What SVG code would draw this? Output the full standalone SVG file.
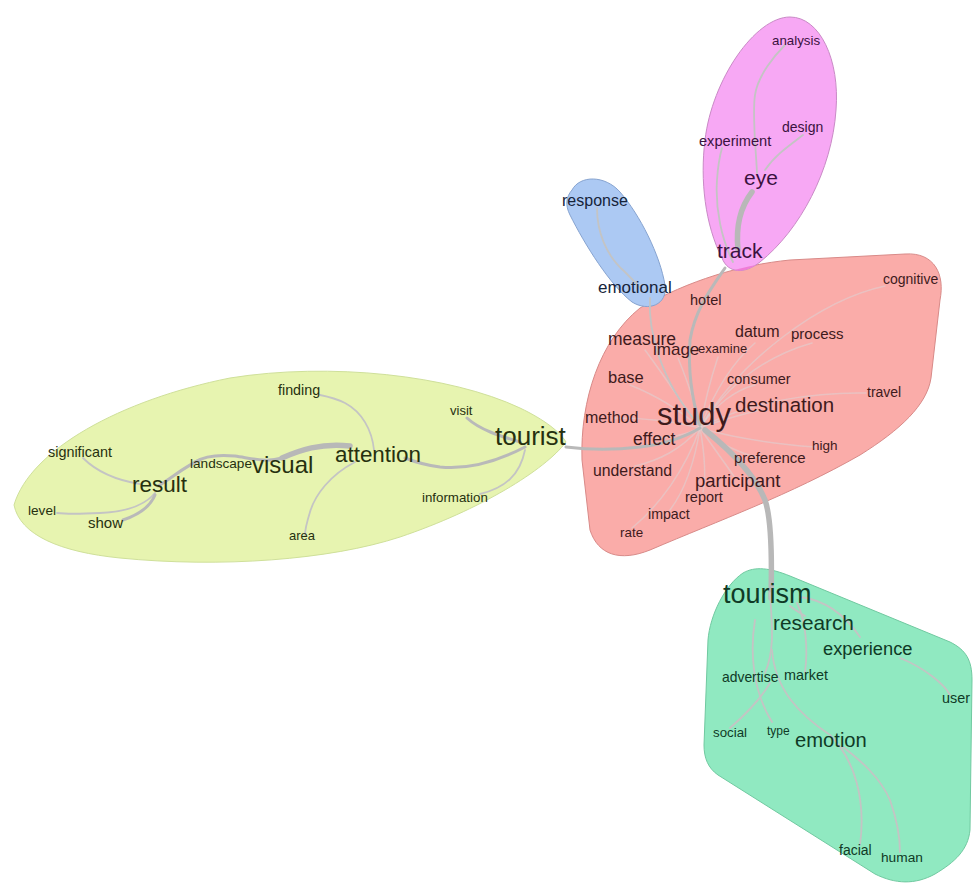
<svg xmlns="http://www.w3.org/2000/svg" width="974" height="883" viewBox="0 0 974 883">
<defs>
<style>
text{font-family:"Liberation Sans",Arial,sans-serif}
.hull{stroke-width:1}
.e1{fill:none;stroke:#c4c4c4;stroke-width:1.8;stroke-linecap:round}
.e2{fill:none;stroke:#b9b9b9;stroke-width:3;stroke-linecap:round}
.e3{fill:none;stroke:#b8b8b8;stroke-width:5.5;stroke-linecap:round}
.ef{fill:none;stroke:#dcd4d6;stroke-opacity:0.55;stroke-width:1.5;stroke-linecap:round}
.tp{fill:#3e1a1c}
.tg{fill:#26300f}
.tb{fill:#16243a}
.tm{fill:#3a1240}
.tt{fill:#0f3a26}
</style>
<path id="pinkShape" d="M640,308 C690,280 740,265 790,260 L905,254 C935,252 945,275 940,300 L931,378 C927,405 900,430 860,455 C790,495 720,520 650,550 C620,562 598,555 590,530 L582,460 C580,400 600,340 640,308 Z"/>
<path id="magShape" d="M790,17 C820,17 840,60 836,110 C832,170 800,230 760,262 C745,274 728,274 722,258 C705,225 700,180 705,140 C712,80 755,17 790,17 Z"/>
<clipPath id="pinkClip"><use href="#pinkShape"/></clipPath>
</defs>
<rect width="974" height="883" fill="#ffffff"/>
<g id="hulls">
<path class="hull" d="M14,505 C30,450 120,400 230,378 C330,362 450,375 520,408 C545,420 560,432 566,442 C545,470 480,510 400,537 C330,560 220,568 120,558 C60,552 20,535 14,505 Z" fill="#e7f4b0" stroke="#cfe09a"/>
<use href="#pinkShape" class="hull" fill="#faaca9" stroke="#d88a88"/>
<path class="hull" d="M572,190 C580,175 605,175 620,192 C640,215 660,255 665,285 C668,305 648,312 632,302 C610,285 585,245 570,215 C565,205 566,197 572,190 Z" fill="#acc9f3" stroke="#86a3d0"/>
<use href="#magShape" class="hull" fill="#f7a8f4" stroke="#c98ac6"/>
<use href="#magShape" clip-path="url(#pinkClip)" fill="#f07bd6"/>
<path class="hull" d="M743,573 C755,566 770,568 790,576 L950,642 C966,650 972,660 972,680 L970,830 C968,850 955,862 935,874 C915,885 895,884 875,874 L718,775 C708,768 704,758 704,745 L708,640 C710,615 725,585 743,573 Z" fill="#90e9c1" stroke="#70c9a0"/>
</g>
<g id="connectors">
<path class="ef" d="M700,428 C680,400 660,370 645,350"/>
<path class="ef" d="M700,428 C695,400 685,375 678,358"/>
<path class="ef" d="M700,428 C705,400 712,375 718,357"/>
<path class="ef" d="M700,428 C715,390 735,360 755,343"/>
<path class="ef" d="M700,428 C730,380 770,355 812,343"/>
<path class="ef" d="M700,428 C740,360 820,300 885,286"/>
<path class="ef" d="M700,428 C715,405 735,390 755,385"/>
<path class="ef" d="M700,428 C720,420 740,415 760,410"/>
<path class="ef" d="M700,428 C750,400 820,392 866,393"/>
<path class="ef" d="M700,428 C740,440 790,445 815,447"/>
<path class="ef" d="M700,428 C720,445 745,455 760,458"/>
<path class="ef" d="M700,428 C715,450 730,470 735,478"/>
<path class="ef" d="M700,428 C705,455 706,480 703,492"/>
<path class="ef" d="M700,428 C695,460 685,490 670,510"/>
<path class="ef" d="M700,428 C685,470 660,505 632,528"/>
<path class="ef" d="M700,428 C680,450 660,460 635,466"/>
<path class="ef" d="M700,428 C685,435 670,438 655,438"/>
<path class="ef" d="M700,428 C670,420 640,418 615,418"/>
<path class="ef" d="M700,428 C680,410 655,395 630,385"/>
<path class="e2" d="M566,447 C590,450 615,450 640,447 C665,444 685,437 700,428"/>
<path class="e1" d="M650,298 C648,330 660,380 698,424"/>
<path class="e2" d="M725,268 C710,290 695,310 690,340 C688,370 692,400 700,425"/>
<path class="e1" d="M597,208 C597,230 605,255 625,272 C635,282 640,288 642,290"/>
<path class="e3" d="M738,250 C736,230 738,210 752,192"/>
<path class="e1" d="M757,173 C756,150 752,115 755,95 C758,75 775,55 785,45"/>
<path class="e1" d="M765,170 C775,155 790,145 803,135"/>
<path class="e1" d="M733,262 C722,240 715,210 717,180 C718,165 720,155 722,148"/>
<path class="e2" d="M520,442 C500,436 480,430 467,418"/>
<path class="e2" d="M525,447 C500,460 470,470 440,467 C425,465 415,462 405,458"/>
<path class="e1" d="M525,450 C520,475 505,488 480,494"/>
<path class="e3" d="M350,446 C320,443 300,450 282,458"/>
<path class="e2" d="M282,458 C265,463 250,458 235,456 C215,454 203,457 195,462"/>
<path class="e2" d="M200,460 C185,466 172,478 158,486"/>
<path class="e1" d="M374,450 C372,430 362,412 345,403 C335,398 325,396 320,395"/>
<path class="e1" d="M355,462 C330,475 315,495 310,512 C306,525 305,532 305,535"/>
<path class="e1" d="M140,484 C115,480 95,470 83,458"/>
<path class="e1" d="M155,493 C145,505 125,512 100,513 C80,514 65,514 57,513"/>
<path class="e2" d="M155,495 C150,507 138,515 123,520"/>
<path class="e3" d="M705,430 C730,450 755,475 765,500 C772,520 772,560 771,598"/>
<path class="e1" d="M790,606 C795,610 800,613 805,616"/>
<path class="e1" d="M800,597 C825,600 845,615 860,637"/>
<path class="e1" d="M900,658 C925,668 945,685 950,695"/>
<path class="e1" d="M770,593 C772,625 775,650 765,673"/>
<path class="e1" d="M797,603 C806,620 808,650 805,672"/>
<path class="e1" d="M755,620 C750,650 752,690 772,722"/>
<path class="e1" d="M770,683 C760,700 745,715 730,728"/>
<path class="e1" d="M772,650 C775,690 800,715 830,735 C855,760 866,800 860,845"/>
<path class="e1" d="M843,747 C860,760 880,777 890,800 C897,820 900,840 900,852"/>
</g>
<g id="n-study"><text class="tp" x="657" y="425" font-size="31">study</text></g>
<g id="n-cognitive"><text class="tp" x="883" y="284" font-size="14">cognitive</text></g>
<g id="n-hotel"><text class="tp" x="690" y="305" font-size="14.5">hotel</text></g>
<g id="n-datum"><text class="tp" x="735" y="337" font-size="16">datum</text></g>
<g id="n-process"><text class="tp" x="791" y="339" font-size="15">process</text></g>
<g id="n-measure"><text class="tp" x="608" y="345" font-size="17.5">measure</text></g>
<g id="n-image"><text class="tp" x="653" y="355" font-size="17">image</text></g>
<g id="n-examine"><text class="tp" x="698" y="353" font-size="13">examine</text></g>
<g id="n-base"><text class="tp" x="608" y="383" font-size="16.5">base</text></g>
<g id="n-consumer"><text class="tp" x="727" y="384" font-size="14.5">consumer</text></g>
<g id="n-travel"><text class="tp" x="867" y="397" font-size="14">travel</text></g>
<g id="n-destination"><text class="tp" x="735" y="412" font-size="20.5">destination</text></g>
<g id="n-method"><text class="tp" x="585" y="423" font-size="16">method</text></g>
<g id="n-effect"><text class="tp" x="633" y="445" font-size="17.5">effect</text></g>
<g id="n-high"><text class="tp" x="812" y="450" font-size="13.5">high</text></g>
<g id="n-preference"><text class="tp" x="734" y="463" font-size="15">preference</text></g>
<g id="n-understand"><text class="tp" x="593" y="476" font-size="15.8">understand</text></g>
<g id="n-participant"><text class="tp" x="695" y="487" font-size="18.5">participant</text></g>
<g id="n-report"><text class="tp" x="685" y="502" font-size="14.5">report</text></g>
<g id="n-impact"><text class="tp" x="648" y="519" font-size="14.2">impact</text></g>
<g id="n-rate"><text class="tp" x="620" y="537" font-size="13.4">rate</text></g>
<g id="n-analysis"><text class="tm" x="772" y="45" font-size="13.3">analysis</text></g>
<g id="n-design"><text class="tm" x="782" y="132" font-size="14">design</text></g>
<g id="n-experiment"><text class="tm" x="699" y="146" font-size="14.6">experiment</text></g>
<g id="n-eye"><text class="tm" x="744" y="185" font-size="21">eye</text></g>
<g id="n-track"><text class="tm" x="717" y="258" font-size="21">track</text></g>
<g id="n-response"><text class="tb" x="562" y="206" font-size="16">response</text></g>
<g id="n-emotional"><text class="tb" x="598" y="293" font-size="17">emotional</text></g>
<g id="n-finding"><text class="tg" x="278" y="395" font-size="14.3">finding</text></g>
<g id="n-visit"><text class="tg" x="450" y="415" font-size="13">visit</text></g>
<g id="n-tourist"><text class="tg" x="495" y="445" font-size="26">tourist</text></g>
<g id="n-attention"><text class="tg" x="335" y="462" font-size="22.4">attention</text></g>
<g id="n-visual"><text class="tg" x="252" y="473" font-size="24">visual</text></g>
<g id="n-landscape"><text class="tg" x="190" y="468" font-size="13.6">landscape</text></g>
<g id="n-significant"><text class="tg" x="48" y="457" font-size="14.4">significant</text></g>
<g id="n-result"><text class="tg" x="132" y="492" font-size="22.5">result</text></g>
<g id="n-level"><text class="tg" x="28" y="515" font-size="13.6">level</text></g>
<g id="n-show"><text class="tg" x="88" y="528" font-size="15">show</text></g>
<g id="n-information"><text class="tg" x="422" y="502" font-size="13.3">information</text></g>
<g id="n-area"><text class="tg" x="289" y="540" font-size="13">area</text></g>
<g id="n-tourism"><text class="tt" x="723" y="603" font-size="27">tourism</text></g>
<g id="n-research"><text class="tt" x="773" y="630" font-size="20.8">research</text></g>
<g id="n-experience"><text class="tt" x="823" y="655" font-size="18.3">experience</text></g>
<g id="n-advertise"><text class="tt" x="722" y="682" font-size="13.9">advertise</text></g>
<g id="n-market"><text class="tt" x="784" y="680" font-size="14.4">market</text></g>
<g id="n-user"><text class="tt" x="942" y="703" font-size="14.4">user</text></g>
<g id="n-social"><text class="tt" x="713" y="737" font-size="13.3">social</text></g>
<g id="n-type"><text class="tt" x="767" y="735" font-size="12">type</text></g>
<g id="n-emotion"><text class="tt" x="795" y="747" font-size="20.2">emotion</text></g>
<g id="n-facial"><text class="tt" x="839" y="855" font-size="14">facial</text></g>
<g id="n-human"><text class="tt" x="881" y="862" font-size="13.7">human</text></g>
</svg>
